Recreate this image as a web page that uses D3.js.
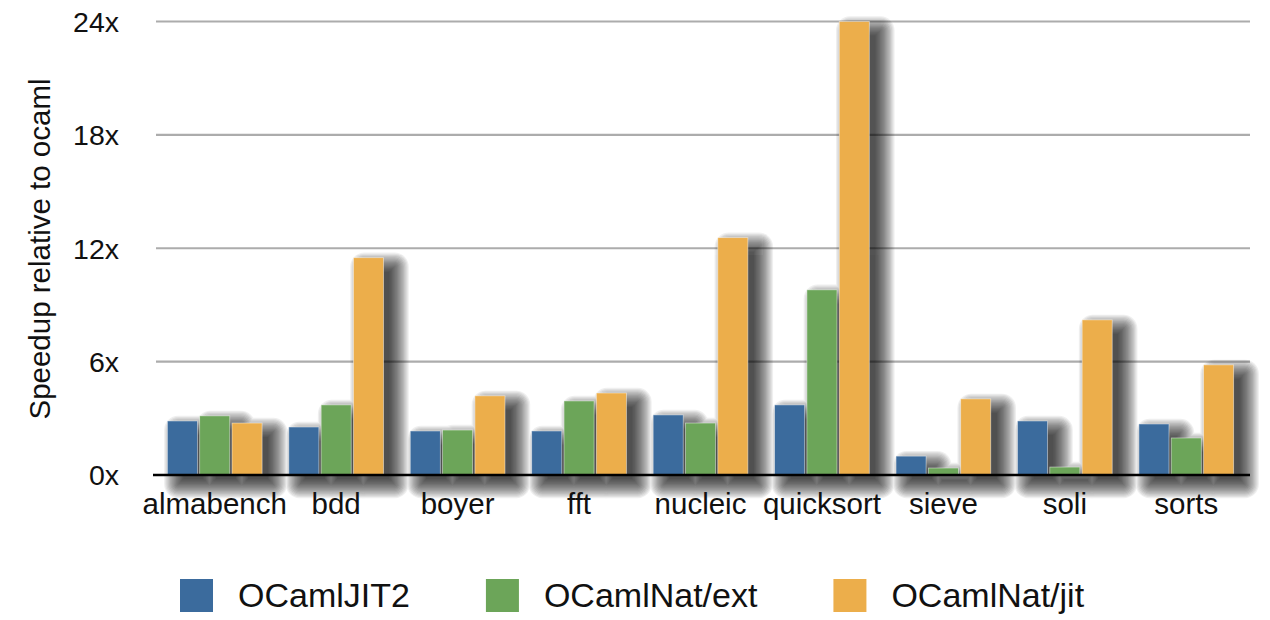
<!DOCTYPE html>
<html>
<head>
<meta charset="utf-8">
<script src="https://cdn.jsdelivr.net/npm/d3@7"></script>
<style>
  body { margin: 0; background: #fff; }
  text { font-family: "Liberation Sans", Arial, sans-serif; fill: #111; }
</style>
</head>
<body>
<div id="chart"></div>
<script>
// data
const categories = ["almabench", "bdd", "boyer", "fft", "nucleic", "quicksort", "sieve", "soli", "sorts"];
const seriesNames = ["OCamlJIT2", "OCamlNat/ext", "OCamlNat/jit"];
const ocamlJIT2 = [2.86, 2.54, 2.33, 2.33, 3.18, 3.71, 1.0, 2.86, 2.7];
const ocamlNatExt = [3.13, 3.71, 2.38, 3.92, 2.75, 9.8, 0.37, 0.42, 1.96];
const ocamlNatJit = [2.75, 11.5, 4.19, 4.34, 12.56, 24.0, 4.03, 8.21, 5.83];
const yTicks = [0, 6, 12, 18, 24];
const yLabel = "Speedup relative to ocaml";

const colors = ["#3b6b9d", "#6ca559", "#ecae4b"];
const seriesValues = [ocamlJIT2, ocamlNatExt, ocamlNatJit];

const width = 1270, height = 620;
const svg = d3.select("#chart").append("svg")
    .attr("width", width)
    .attr("height", height);

const xScale = d3.scaleBand()
    .domain(categories)
    .range([154, 1247])
    .paddingInner(0.22)
    .paddingOuter(0.11);

const xInner = d3.scaleBand()
    .domain(seriesNames)
    .range([0, xScale.bandwidth()])
    .paddingInner(0.07);

const yScale = d3.scaleLinear()
    .domain([0, 24])
    .range([475, 21.5]);

// grid lines
svg.append("g").attr("class", "grid")
    .selectAll("line")
    .data(yTicks.filter(d => d > 0))
    .join("line")
    .attr("x1", 156).attr("x2", 1250)
    .attr("y1", d => yScale(d)).attr("y2", d => yScale(d))
    .attr("stroke", "#acacac")
    .attr("stroke-width", 2.2);

// y tick labels
svg.append("g").attr("class", "yTicks")
    .selectAll("text")
    .data(yTicks)
    .join("text")
    .attr("x", 119)
    .attr("y", d => yScale(d))
    .attr("dy", "0.36em")
    .attr("text-anchor", "end")
    .attr("font-size", "28.5px")
    .text(d => d + "x");

// y axis title
svg.append("text")
    .attr("transform", "translate(50,249) rotate(-90)")
    .attr("text-anchor", "middle")
    .attr("font-size", "29.5px")
    .text(yLabel);

// flatten to one record per bar
const bars = [];
categories.forEach((c, i) => {
    seriesNames.forEach((s, j) => {
        bars.push({ category: c, series: s, idx: j, value: seriesValues[j][i] });
    });
});
const barX = d => xScale(d.category) + xInner(d.series);

// fake blurred shadow: one opaque layer per spread, faded as a whole
// so neighbouring bars don't stack up inside the same layer
const shadowDx = 11, shadowDy = 9;
const spreads = d3.range(-5, 15, 1.2);
const shadowLayer = svg.append("g").attr("class", "shadows");
spreads.forEach(r => {
    shadowLayer.append("g")
        .attr("opacity", 0.057)
        .selectAll("rect")
        .data(bars)
        .join("rect")
        .attr("x", d => barX(d) + shadowDx - r)
        .attr("y", d => yScale(d.value) + shadowDy - r)
        .attr("width", xInner.bandwidth() + 2 * r)
        .attr("height", d => yScale(0) - yScale(d.value) + 2 * r)
        .attr("rx", Math.max(r, 0))
        .attr("fill", "#000");
});

// bars
svg.append("g").attr("class", "bars")
    .selectAll("rect")
    .data(bars)
    .join("rect")
    .attr("x", barX)
    .attr("width", xInner.bandwidth())
    .attr("y", d => yScale(d.value))
    .attr("height", d => yScale(0) - yScale(d.value))
    .attr("fill", d => colors[d.idx])
    .attr("stroke", "rgba(255,255,255,0.55)")
    .attr("stroke-width", 0.8);

// baseline
svg.append("line")
    .attr("x1", 153).attr("x2", 1250)
    .attr("y1", yScale(0)).attr("y2", yScale(0))
    .attr("stroke", "#000")
    .attr("stroke-width", 2.7);

// category labels
svg.append("g").attr("class", "xLabels")
    .selectAll("text")
    .data(categories)
    .join("text")
    .attr("x", d => xScale(d) + xScale.bandwidth() / 2)
    .attr("y", 514)
    .attr("text-anchor", "middle")
    .attr("font-size", "29.5px")
    .text(d => d);

// legend
const legend = svg.append("g").attr("class", "legend");
let lx = 180;
seriesNames.forEach((name, i) => {
    legend.append("rect")
        .attr("x", lx).attr("y", 579)
        .attr("width", 33).attr("height", 33)
        .attr("fill", colors[i]);
    const t = legend.append("text")
        .attr("x", lx + 58)
        .attr("y", 607)
        .attr("font-size", "34px")
        .text(name);
    lx += 58 + t.node().getComputedTextLength() + 76;
});
</script>
</body>
</html>
